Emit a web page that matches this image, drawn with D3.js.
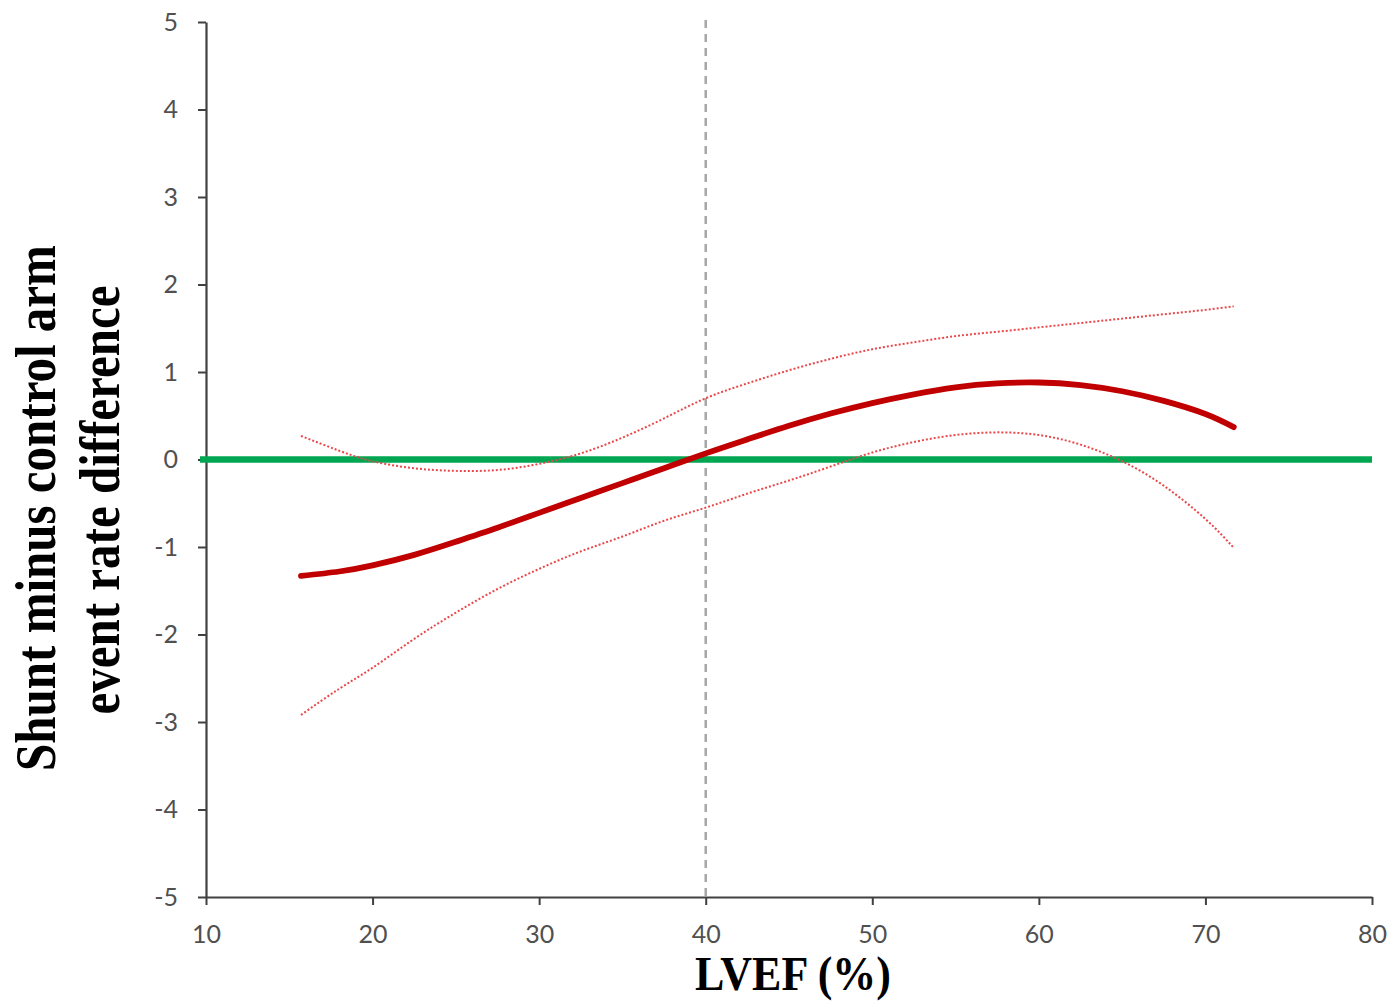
<!DOCTYPE html>
<html>
<head>
<meta charset="utf-8">
<script src="https://cdn.jsdelivr.net/npm/d3@7"></script>
<style>
  html, body { margin: 0; padding: 0; background: #fff; }
  svg { display: block; }
</style>
</head>
<body>
<svg id="chart" width="1393" height="1002"></svg>
<script>
// ---- Data ----
const lvef     = [15.7, 18, 20, 22.5, 25, 27.5, 30, 32.5, 35, 37.5, 40, 42.5, 45, 47.5, 50, 52.5, 55, 57.5, 60, 62.5, 65, 67.5, 70, 71.7];
const estimate = [-1.33, -1.28, -1.21, -1.09, -0.94, -0.78, -0.61, -0.44, -0.27, -0.1, 0.07, 0.23, 0.385, 0.525, 0.645, 0.745, 0.825, 0.87, 0.88, 0.85, 0.78, 0.67, 0.52, 0.37];
const upperCI  = [0.27, 0.1, -0.02, -0.1, -0.13, -0.12, -0.05, 0.07, 0.25, 0.47, 0.7, 0.87, 1.02, 1.15, 1.26, 1.34, 1.41, 1.46, 1.51, 1.56, 1.61, 1.66, 1.71, 1.75];
const lowerCI  = [-2.92, -2.62, -2.38, -2.05, -1.75, -1.48, -1.25, -1.05, -0.88, -0.7, -0.55, -0.39, -0.24, -0.08, 0.08, 0.2, 0.28, 0.31, 0.28, 0.17, -0.02, -0.3, -0.68, -1.01];
const xTicks = [10, 20, 30, 40, 50, 60, 70, 80];
const yTicks = [-5, -4, -3, -2, -1, 0, 1, 2, 3, 4, 5];
const referenceLVEF = 40;
const zeroLine = 0;
const xTitle = "LVEF (%)";
const yTitleLines = ["Shunt minus control arm", "event rate difference"];

// ---- Layout ----
const svg = d3.select("#chart");
const x = d3.scaleLinear().domain([10, 80]).range([206, 1372]);
const y = d3.scaleLinear().domain([-5, 5]).range([897, 22]);

// Axes
const xAxis = d3.axisBottom(x).tickValues(xTicks).tickSize(8).tickSizeOuter(0).tickPadding(19);
const yAxis = d3.axisLeft(y).tickValues(yTicks).tickSize(8).tickSizeOuter(0).tickPadding(20)
  .tickFormat(d => d);

const gx = svg.append("g").attr("transform", `translate(0,${y(-5)})`).call(xAxis);
const gy = svg.append("g").attr("transform", `translate(${x(10)},0)`).call(yAxis);
[gx, gy].forEach(g => {
  g.select(".domain").attr("stroke", "#404040").attr("stroke-width", 2.2);
  g.selectAll(".tick line").attr("stroke", "#404040").attr("stroke-width", 2);
  g.selectAll(".tick text").attr("fill", "#505050")
    .style("font-family", "Lato, 'Open Sans', sans-serif").style("font-size", "25px");
});
gx.selectAll(".tick text").attr("dy", "0.75em");

// Vertical dashed reference line
svg.append("line")
  .attr("x1", x(referenceLVEF)).attr("x2", x(referenceLVEF))
  .attr("y1", y(5) - 2).attr("y2", y(-5))
  .attr("stroke", "#A6A6A6").attr("stroke-width", 2.5)
  .attr("stroke-dasharray", "8,6");

// Zero line (green)
svg.append("line")
  .attr("x1", x(10) - 6).attr("x2", x(80))
  .attr("y1", y(zeroLine)).attr("y2", y(zeroLine))
  .attr("stroke", "#00A651").attr("stroke-width", 6.5);

const line = d3.line().x(d => x(d[0])).y(d => y(d[1])).curve(d3.curveNatural);

// CI lines (dotted)
[upperCI, lowerCI].forEach(arr => {
  svg.append("path")
    .datum(lvef.map((v, i) => [v, arr[i]]))
    .attr("d", line)
    .attr("fill", "none")
    .attr("stroke", "#E8484A")
    .attr("stroke-width", 2)
    .attr("stroke-dasharray", "2,2");
});

// Estimate line
svg.append("path")
  .datum(lvef.map((v, i) => [v, estimate[i]]))
  .attr("d", line)
  .attr("fill", "none")
  .attr("stroke", "#C00000")
  .attr("stroke-width", 5.8)
  .attr("stroke-linecap", "round");

// Axis titles
svg.append("text")
  .attr("transform", `translate(${(693 + 893) / 2},990) scale(1,1.12)`)
  .attr("text-anchor", "middle")
  .style("font-family", "'Liberation Serif', 'Times New Roman', serif")
  .style("font-weight", "bold")
  .style("font-size", "44px")
  .attr("fill", "#000")
  .text(xTitle);

const yt = svg.append("g").attr("transform", "translate(0,508) rotate(-90)");
yt.append("text")
  .attr("transform", "translate(0,55) scale(1,1.18)")
  .attr("text-anchor", "middle")
  .style("font-family", "'Liberation Serif', 'Times New Roman', serif")
  .style("font-weight", "bold").style("font-size", "49px")
  .text(yTitleLines[0]);
yt.append("text")
  .attr("transform", "translate(8,119) scale(1,1.18)")
  .attr("text-anchor", "middle")
  .style("font-family", "'Liberation Serif', 'Times New Roman', serif")
  .style("font-weight", "bold").style("font-size", "49px")
  .text(yTitleLines[1]);
</script>
</body>
</html>
